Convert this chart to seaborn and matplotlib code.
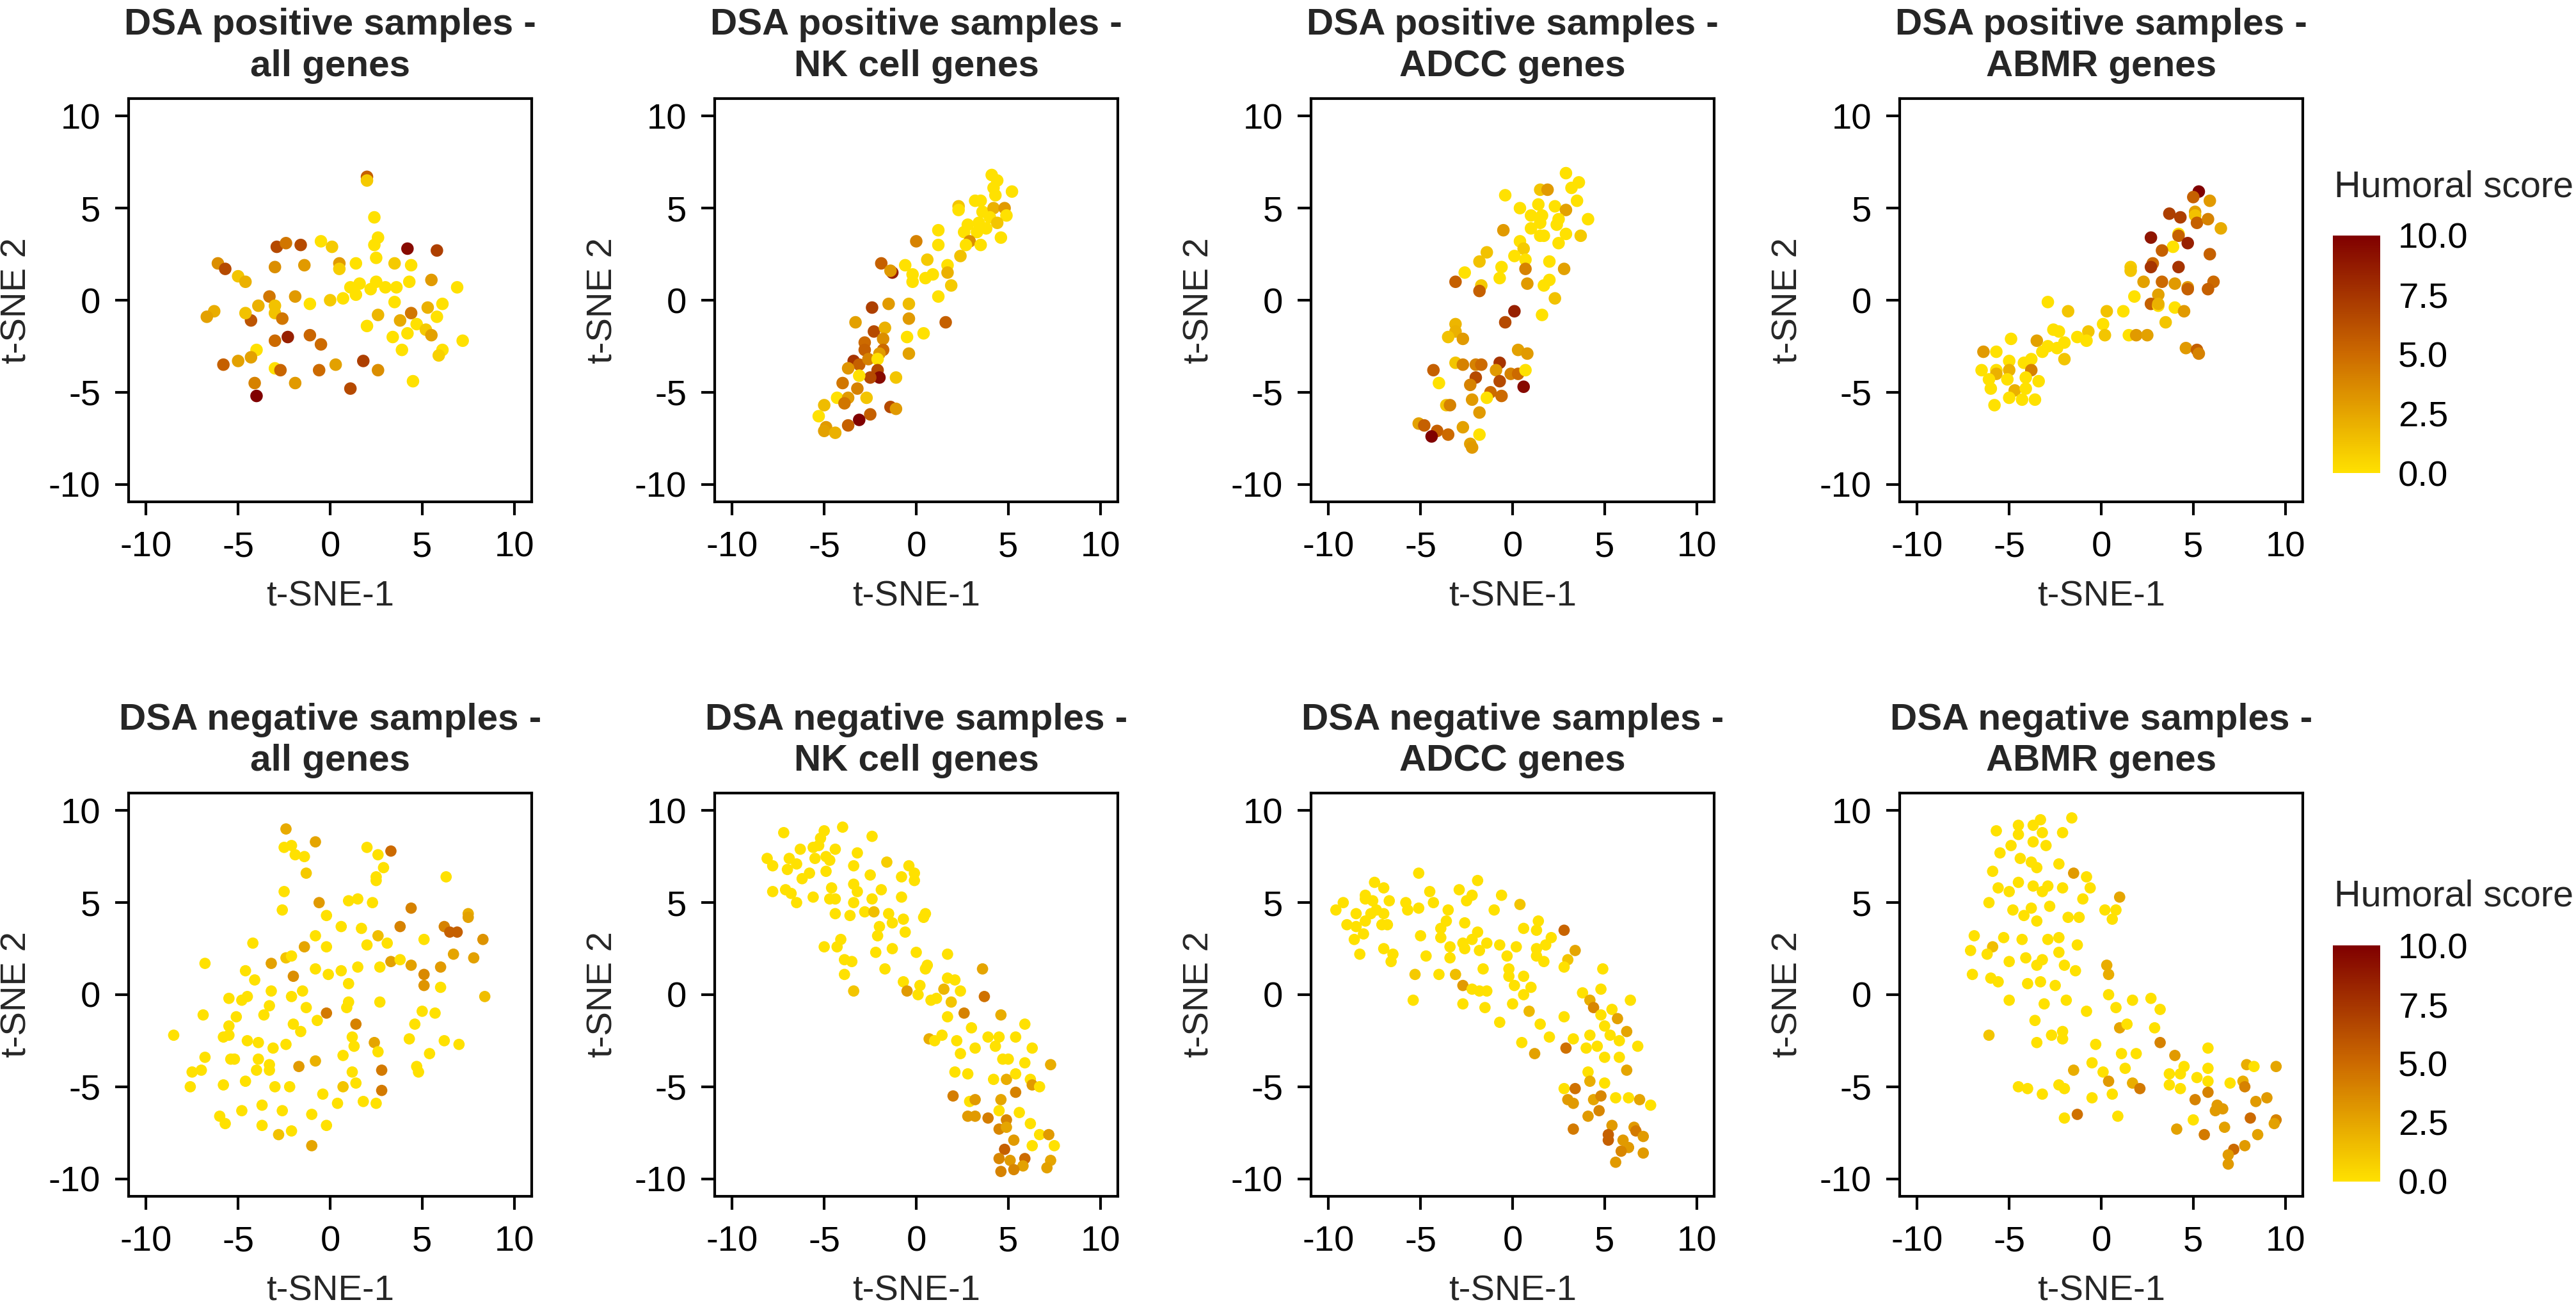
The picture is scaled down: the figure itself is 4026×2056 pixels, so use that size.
import pandas as pd
import seaborn as sns
import matplotlib.pyplot as plt
from matplotlib.colors import LinearSegmentedColormap, Normalize
from matplotlib.cm import ScalarMappable

# t-SNE coordinates + humoral score

# DSA positive - all genes
pos_all_x = [2.0, 2.0, 2.4, 2.6, 2.4, 4.2, 5.8, -0.5, 0.1, -2.9, -2.4, -1.6, -6.1, -5.7, -5.0, -4.6, -3.0, -1.4, 0.5, 0.5,
             1.4, 2.5, 3.5, 4.4, 4.3, 5.5, 6.9, 1.1, 1.6, 2.2, 2.5, 3.0, 3.6, 1.4, 0.7, 0.0, -1.1, -1.9, -3.3, -3.9,
             -3.0, -3.0, -2.6, -4.3, -4.6, -6.3, -6.7, 3.5, 6.1, 5.3, 4.4, 2.6, 3.8, 5.8, 2.0, 4.7, 4.2, 5.2, 5.5, 3.4,
             7.2, 3.9, 6.1, 5.9, -2.3, -3.0, -1.1, -0.5, -4.0, -4.3, -5.0, -5.8, -3.0, -2.7, -0.6, 0.3, 1.8, 2.6, 4.5, -4.1,
             -4.0, -1.9, 1.1]
pos_all_y = [6.7, 6.5, 4.5, 3.4, 3.0, 2.8, 2.7, 3.2, 2.9, 2.9, 3.1, 3.0, 2.0, 1.7, 1.3, 1.0, 1.8, 1.9, 2.0, 1.7,
             2.0, 2.3, 2.0, 1.9, 1.0, 1.1, 0.7, 0.7, 0.9, 0.6, 1.0, 0.7, 0.7, 0.3, 0.1, 0.0, -0.2, 0.2, 0.2, -0.3,
             -0.3, -0.7, -1.0, -1.1, -0.7, -0.6, -0.9, -0.1, -0.2, -0.4, -0.7, -0.8, -1.1, -0.9, -1.4, -1.3, -1.8, -1.6, -1.9, -2.0,
             -2.2, -2.7, -2.7, -3.0, -2.0, -2.2, -1.9, -2.4, -2.7, -3.1, -3.3, -3.5, -3.7, -3.8, -3.8, -3.5, -3.3, -3.8, -4.4, -4.5,
             -5.2, -4.5, -4.8]
pos_all_s = [5.5, 1.0, 0, 0, 0, 9.5, 7.0, 0, 1.0, 6.5, 4.5, 6.5, 3.5, 6.5, 1.2, 2.0, 3.5, 3.0, 3.0, 0.8,
             0, 0, 1.0, 0, 0, 3.0, 0, 0, 0, 0, 0, 0, 0, 0, 0, 1.0, 0, 3.0, 4.5, 2.0,
             1.3, 1.3, 4.5, 6.0, 1.3, 2.2, 2.7, 0, 0, 2.0, 4.5, 1.8, 2.3, 0, 0, 0, 0, 1.0, 2.7, 0,
             0, 0, 0, 0.7, 8.5, 5.0, 5.2, 5.0, 0, 2.7, 2.7, 5.5, 0, 5.2, 5.0, 2.7, 7.0, 3.5, 0, 4.0,
             10.0, 3.0, 6.5]

# DSA positive - NK cell genes
pos_nk_x = [4.1, 4.4, 4.2, 4.3, 5.2, 3.2, 3.5, 2.3, 2.3, 3.6, 4.2, 4.8, 4.9, 4.0, 4.4, 2.8, 3.4, 3.8, 3.3, 2.6,
            2.9, 2.7, 3.5, 4.6, 1.2, 1.2, 2.4, 0.0, 0.6, 1.7, 1.7, -0.6, -1.9, -1.3, -1.4, -0.2, -0.2, 0.5, 0.9, 1.9,
            1.2, -2.4, -1.5, -0.4, -0.4, 1.6, -3.3, -2.3, -1.7, -1.8, -0.5, 0.4, -2.8, -2.8, -1.8, -2.0, -0.4, -3.4, -3.1, -2.6,
            -2.1, -3.7, -2.1, -2.0, -2.5, -3.1, -1.1, -4.0, -3.2, -4.3, -3.7, -3.9, -2.7, -5.0, -1.4, -1.1, -5.3, -2.5, -3.1, -3.7,
            -4.9, -5.0, -4.4]
pos_nk_y = [6.8, 6.5, 6.1, 5.7, 5.9, 5.4, 5.4, 5.1, 4.9, 4.8, 5.0, 5.0, 4.6, 4.5, 4.2, 4.1, 4.2, 3.9, 3.7, 3.7,
            3.2, 3.0, 3.0, 3.4, 3.8, 3.0, 2.4, 3.2, 2.2, 1.9, 1.5, 1.9, 2.0, 1.5, 1.6, 1.4, 1.0, 1.2, 1.4, 0.8,
            0.2, -0.4, -0.2, -0.2, -1.0, -1.2, -1.2, -1.7, -1.5, -2.1, -2.0, -1.8, -2.3, -2.7, -2.7, -2.9, -2.9, -3.3, -3.5, -3.2,
            -3.2, -3.7, -3.8, -4.2, -4.2, -4.1, -4.2, -4.5, -4.8, -5.3, -5.3, -5.6, -5.3, -5.7, -5.8, -5.9, -6.3, -6.2, -6.5, -6.8,
            -6.9, -7.1, -7.2]
pos_nk_s = [0, 0, 0, 0, 0, 0, 0, 1.2, 0, 0, 2.0, 3.0, 0, 0, 1.2, 0, 0, 0, 0, 0,
            3.5, 0, 0, 0, 0, 0, 1.3, 4.0, 1.0, 0, 2.0, 0, 5.5, 8.5, 3.0, 0, 0, 0, 0, 1.0,
            0, 7.0, 3.0, 1.6, 3.0, 5.5, 2.7, 6.5, 2.0, 3.5, 0, 0, 5.0, 5.5, 5.0, 3.0, 2.7, 7.5, 5.5, 4.0,
            0, 3.2, 6.5, 9.5, 6.5, 0, 1.2, 4.5, 4.0, 0, 3.0, 4.5, 1.2, 1.6, 6.5, 3.0, 0, 5.5, 10.0, 5.5,
            3.0, 2.7, 2.0]

# DSA positive - ADCC genes
pos_adcc_x = [2.9, 3.6, 3.2, 1.5, 1.9, -0.4, 3.5, 0.4, 1.4, 2.3, 2.9, 1.0, 1.6, 1.5, 2.5, 2.4, 4.1, -0.5, 1.0, 1.5,
              1.7, 2.9, 3.7, 2.5, 0.4, 0.6, -1.4, 0.1, 0.7, -1.8, -0.6, 0.7, 2.0, 2.8, -2.6, -0.7, -3.1, -1.7, -1.8, 0.8,
              2.0, 1.7, 2.3, 0.1, -0.4, 1.6, -3.1, -3.1, -3.5, -2.7, 0.3, 0.8, -3.1, -2.7, -2.0, -1.7, -0.7, -0.9, -0.1, 0.3,
              0.7, -4.3, -2.0, -0.7, -2.3, 0.6, -4.0, -1.2, -1.4, -0.6, -2.2, -3.6, -3.4, -1.8, -5.1, -4.8, -4.1, -4.4, -3.5, -2.7,
              -1.8, -2.3, -2.2]
pos_adcc_y = [6.9, 6.4, 6.1, 6.0, 6.0, 5.7, 5.4, 5.0, 5.2, 5.1, 4.9, 4.6, 4.6, 4.2, 4.4, 4.1, 4.4, 3.8, 3.9, 3.5,
              3.5, 3.6, 3.5, 3.1, 3.2, 2.8, 2.6, 2.4, 2.2, 2.1, 1.8, 1.7, 2.1, 1.7, 1.5, 1.2, 1.0, 0.8, 0.5, 0.9,
              1.1, 0.8, 0.1, -0.6, -1.2, -0.8, -1.3, -1.7, -2.0, -2.1, -2.7, -2.9, -3.4, -3.5, -3.5, -3.5, -3.4, -3.8, -4.0, -4.0,
              -3.8, -3.8, -4.2, -4.4, -4.6, -4.7, -4.5, -5.0, -5.3, -5.2, -5.4, -5.7, -5.7, -6.1, -6.7, -6.8, -7.1, -7.4, -7.3, -6.9,
              -7.3, -7.8, -8.0]
pos_adcc_s = [0, 0, 0, 1.2, 3.0, 0, 0, 0, 0, 0, 2.7, 0, 0, 0, 0, 0, 0, 3.0, 0, 0,
              0, 0, 1.0, 0, 0, 1.0, 1.3, 0, 0, 1.3, 0, 4.0, 0, 2.7, 0, 0, 5.5, 1.0, 5.5, 3.0,
              0, 0, 1.3, 8.5, 6.5, 0, 1.8, 2.0, 1.3, 3.0, 2.7, 3.0, 1.2, 4.0, 4.0, 5.0, 7.5, 3.0, 4.0, 5.0,
              0, 5.5, 6.5, 6.5, 4.0, 9.5, 0, 5.0, 0, 5.0, 3.0, 1.2, 4.0, 3.0, 2.7, 5.5, 5.5, 10.0, 5.0, 2.7,
              0, 2.7, 3.0]

# DSA positive - ABMR genes
pos_abmr_x = [5.3, 5.0, 5.9, 3.7, 4.3, 5.1, 5.1, 5.2, 5.8, 6.5, 2.7, 4.2, 4.2, 4.7, 3.9, 3.3, 5.9, 1.6, 1.6, 2.8,
              2.7, 4.2, 2.3, 3.3, 4.0, 4.7, 4.7, 6.1, 5.8, 1.8, 3.1, 2.7, 3.1, 3.1, 4.0, 4.5, 3.5, -2.9, -1.8, 0.3,
              1.2, 0.1, -2.6, -2.3, -0.7, -1.3, -0.8, 0.2, 1.5, 1.9, 2.5, -4.9, -3.5, -2.9, -3.2, -2.4, -2.0, -2.0, 4.6, 5.2,
              5.3, -6.4, -5.7, -5.0, -4.2, -3.8, -6.5, -5.7, -5.7, -5.0, -3.8, -6.1, -5.1, -4.1, -3.4, -6.0, -4.7, -4.1, -5.0, -4.3,
              -3.6, -5.8]
pos_abmr_y = [5.9, 5.6, 5.4, 4.7, 4.5, 4.8, 4.6, 4.2, 4.4, 3.9, 3.4, 3.6, 3.5, 3.1, 2.9, 2.7, 2.5, 1.8, 1.6, 2.0,
              1.8, 1.8, 1.0, 1.0, 0.9, 0.7, 0.6, 1.0, 0.6, 0.2, 0.3, -0.2, -0.3, -0.2, -0.4, -0.6, -1.2, -0.1, -0.6, -0.6,
              -0.6, -1.3, -1.6, -1.7, -1.7, -2.0, -2.2, -1.9, -1.9, -1.9, -1.9, -2.1, -2.2, -2.5, -2.8, -2.6, -2.3, -3.2, -2.6, -2.7,
              -2.9, -2.8, -2.8, -3.3, -3.4, -3.2, -3.8, -3.8, -4.0, -3.8, -3.8, -4.3, -4.3, -4.2, -4.4, -4.8, -4.9, -4.8, -5.3, -5.4,
              -5.4, -5.7]
pos_abmr_s = [10.0, 5.5, 3.0, 7.0, 7.0, 2.7, 1.3, 5.5, 4.0, 2.3, 9.0, 0, 5.5, 8.5, 0, 5.5, 5.5, 1.0, 1.2, 5.0,
              7.5, 7.5, 2.7, 5.0, 3.0, 3.0, 5.5, 5.0, 5.5, 0, 2.7, 5.5, 0, 2.0, 0, 3.0, 1.2, 0, 1.2, 1.3,
              0, 0, 0, 0, 1.2, 0, 0, 1.2, 0, 3.0, 2.7, 0, 2.7, 0, 0, 0, 0, 1.2, 3.0, 5.5,
              4.0, 3.0, 0, 0, 0, 0, 0, 0, 2.0, 2.0, 4.0, 0, 0, 0, 0, 0, 2.0, 0, 0, 0,
              0, 0]

# DSA negative - all genes
neg_all_x = [-2.4, -0.8, -2.5, -2.1, -1.9, -1.4, -1.3, 2.0, 2.6, 3.3, 2.9, 2.5, 2.5, 6.3, -2.5, -2.6, -0.6, -0.2, 1.0, 1.5,
             2.3, 4.4, 3.8, 6.2, 6.5, 6.9, 7.5, 7.5, 8.3, -0.8, 0.6, 1.7, 2.6, 3.1, 2.0, 5.1, -4.2, -1.4, -0.2, -6.8,
             -3.2, -2.4, -2.1, -0.8, -0.1, 0.6, 1.5, 2.7, 3.3, 3.8, 4.4, 5.1, 5.1, 6.0, 6.0, 6.7, 7.8, 8.4, -2.0, -4.6,
             -4.1, 1.0, -3.2, -1.5, -5.5, -4.8, -4.5, -2.1, -3.3, -1.3, 1.0, 0.9, 2.7, -0.2, 5.0, 5.7, -6.9, -5.1, -3.6, -0.7,
             1.4, 4.6, -5.5, -2.0, -1.6, -8.5, -5.8, -5.5, -4.5, -3.9, -3.1, -2.4, 1.2, 1.3, 2.4, 2.6, 4.3, 6.2, 7.0, 5.4,
             -6.8, -5.4, -5.2, -3.9, 0.7, -0.8, -1.7, -3.3, -3.3, -4.0, -7.5, -7.0, 2.8, 4.7, 4.8, 1.2, -7.6, -5.8, -4.6, -3.0,
             -2.2, 0.7, 1.4, 2.8, -0.4, 0.4, 1.8, 2.5, -3.7, -4.8, -2.6, -1.0, -6.0, -5.7, -3.7, -2.1, -0.2, -2.8, -1.0]
neg_all_y = [9.0, 8.3, 8.0, 8.1, 7.6, 7.5, 6.6, 8.0, 7.6, 7.8, 6.9, 6.4, 6.2, 6.4, 5.6, 4.6, 5.0, 4.3, 5.1, 5.2,
             5.0, 4.7, 3.7, 3.7, 3.4, 3.4, 4.4, 4.2, 3.0, 3.2, 3.7, 3.6, 3.2, 2.8, 2.7, 3.0, 2.8, 2.6, 2.6, 1.7,
             1.7, 2.0, 2.1, 1.4, 1.1, 1.3, 1.5, 1.5, 1.8, 1.9, 1.6, 1.1, 0.5, 1.5, 0.4, 2.2, 2.0, -0.1, 1.0, 1.3,
             0.8, 0.6, 0.2, 0.2, -0.2, -0.3, -0.1, -0.1, -0.6, -0.7, -0.4, -0.7, -0.4, -1.0, -0.9, -1.0, -1.1, -1.2, -1.1, -1.4,
             -1.6, -1.6, -1.7, -1.6, -2.0, -2.2, -2.3, -2.2, -2.5, -2.6, -2.9, -2.7, -2.3, -2.8, -2.6, -3.1, -2.4, -2.5, -2.7, -3.2,
             -3.4, -3.5, -3.5, -3.5, -3.3, -3.6, -3.9, -3.8, -4.1, -4.1, -4.2, -4.1, -4.1, -3.9, -4.2, -4.2, -5.0, -4.9, -4.7, -5.0,
             -5.0, -5.0, -4.8, -5.2, -5.4, -5.9, -5.8, -5.9, -6.0, -6.3, -6.3, -6.5, -6.6, -7.0, -7.1, -7.4, -7.1, -7.6, -8.2]
neg_all_s = [2.3, 2.5, 0, 0, 0, 0, 1.0, 0, 0, 5.0, 0, 0, 0, 0, 0, 0, 3.0, 0, 0, 0,
             0, 4.0, 4.0, 4.0, 5.5, 5.5, 2.2, 2.7, 3.3, 0, 0, 0, 1.5, 0, 0, 0, 0, 2.5, 0, 0,
             2.7, 1.2, 0, 0, 0, 0, 0, 0, 2.7, 0, 2.7, 3.7, 3.2, 3.0, 0, 2.5, 2.7, 1.5, 3.5, 0,
             0, 0, 0, 0, 0, 0, 0, 0, 0, 0, 0, 0, 0, 4.3, 0, 0, 0, 0, 0, 0,
             4.0, 0, 0, 0, 0, 0, 0, 0, 0, 0, 0, 0, 0, 0, 2.5, 0, 0, 0, 0, 0,
             0, 0, 0, 0, 0, 2.0, 3.0, 0, 0, 0, 0, 0, 4.3, 0, 0, 0, 0, 0, 0, 0,
             0, 1.2, 0, 4.3, 0, 0, 0, 0, 0, 0, 0, 0, 0, 0, 0, 0, 0, 1.3, 2.5]

# DSA negative - NK cell genes
neg_nk_x = [-7.2, -5.0, -4.0, -2.4, -5.2, -6.3, -5.6, -5.3, -4.4, -3.2, -8.1, -7.8, -6.9, -6.5, -7.0, -5.5, -4.9, -4.7, -3.4, -1.6,
            -0.4, -0.1, -0.1, -0.8, -2.5, -4.9, -5.8, -6.2, -7.8, -7.1, -6.8, -6.5, -5.6, -4.7, -4.4, -4.6, -3.4, -3.2, -3.4, -2.4,
            -1.9, -0.8, -4.4, -3.6, -2.8, -2.3, -1.5, -0.7, 0.5, 0.4, -1.3, -2.0, -2.1, -0.6, -4.1, -5.0, -4.3, -2.2, -1.3, 0.0,
            1.7, -3.9, -3.5, 0.6, 0.5, -1.7, 3.6, -3.9, -3.4, -0.7, -0.5, 0.2, 0.1, 0.8, 1.1, 1.5, 1.7, 2.1, 2.4, 1.9,
            3.7, 1.7, 2.6, 4.6, 3.0, 5.9, 0.7, 1.0, 1.4, 2.2, 3.9, 4.5, 5.4, 4.3, 3.2, 6.3, 2.4, 4.7, 5.0, 5.9,
            7.3, 2.1, 2.8, 4.2, 4.9, 5.4, 6.2, 6.3, 6.7, 2.0, 2.9, 3.2, 4.6, 5.4, 4.5, 5.6, 2.8, 3.2, 3.9, 4.9,
            4.5, 4.9, 6.2, 6.7, 7.2, 5.3, 6.3, 7.5, 4.8, 4.5, 5.1, 5.9, 5.8, 5.3, 4.6, 7.3, 7.1]
neg_nk_y = [8.8, 8.9, 9.1, 8.6, 8.5, 7.9, 8.0, 8.1, 7.9, 7.7, 7.4, 7.0, 7.4, 7.1, 6.8, 7.4, 7.5, 7.3, 7.0, 7.2,
            7.0, 6.6, 6.2, 6.4, 6.5, 6.7, 6.6, 6.3, 5.6, 5.7, 5.5, 5.0, 5.3, 5.2, 5.2, 5.8, 6.0, 5.6, 5.0, 5.2,
            5.7, 5.3, 4.4, 4.3, 4.5, 4.5, 4.4, 4.1, 4.4, 4.2, 3.9, 3.7, 3.2, 3.4, 3.0, 2.6, 2.6, 2.3, 2.5, 2.3,
            2.2, 1.9, 1.8, 1.6, 1.4, 1.4, 1.4, 1.1, 0.2, 0.7, 0.2, 0.5, 0.0, -0.3, -0.2, 0.3, 0.9, 0.8, 0.2, -0.4,
            -0.1, -1.2, -1.0, -1.1, -1.8, -1.6, -2.4, -2.5, -2.2, -2.5, -2.3, -2.3, -2.3, -2.8, -2.9, -2.9, -3.2, -3.5, -3.5, -3.7,
            -3.8, -4.2, -4.3, -4.6, -4.6, -4.3, -4.6, -4.9, -5.0, -5.5, -5.8, -5.7, -5.7, -5.3, -6.3, -6.4, -6.6, -6.6, -6.7, -6.8,
            -7.3, -7.2, -7.0, -7.6, -7.6, -7.9, -8.2, -8.2, -8.4, -8.9, -9.0, -8.9, -9.3, -9.5, -9.6, -9.0, -9.4]
neg_nk_s = [0, 0, 0, 0, 0, 0, 0, 0, 0, 0, 0, 0, 0, 0, 0, 0, 0, 0, 0, 0.8,
            0, 0, 0, 0, 0, 0, 0, 0, 0, 0, 0, 0, 0, 0, 0, 0, 0, 0, 0, 0,
            0, 0, 0, 0, 0, 1.5, 0, 0, 0, 0, 0, 0, 0, 0, 0, 0, 0, 0, 0, 0,
            0, 0, 0, 0, 0, 0, 2.5, 0, 1.2, 0, 3.0, 0, 0, 0, 0, 1.8, 0, 0, 0, 1.2,
            4.7, 0, 4.0, 2.2, 0, 0, 2.2, 0, 0, 0, 0, 0, 0, 0, 0, 0, 0, 0, 0, 0,
            2.2, 0, 0, 0, 2.2, 0, 0, 3.0, 0, 4.2, 0, 3.0, 2.5, 4.0, 0, 0, 3.0, 3.0, 4.2, 3.8,
            3.8, 2.5, 0, 0, 3.0, 3.0, 0, 0, 5.5, 3.8, 3.0, 5.0, 2.7, 3.8, 4.0, 2.5, 2.7]

# DSA negative - ADCC genes
neg_adcc_x = [-9.2, -9.0, -5.1, -7.5, -7.0, -8.0, -8.0, -7.6, -6.7, -5.8, -5.7, -5.1, -4.5, -4.3, -2.9, -1.9, -2.2, -2.5, -0.6, -1.0,
              0.4, -8.5, -7.7, -7.4, -7.0, -8.0, -8.5, -7.1, -6.8, -8.1, -8.6, -3.5, -3.6, -3.9, -3.9, -2.6, -1.9, -2.2, -2.7, -2.6,
              -3.4, -1.4, -1.8, -0.7, 0.2, 0.6, 1.4, 1.3, 2.1, 1.8, 1.3, 1.3, 1.7, -0.3, 2.8, 3.4, 3.0, 2.8, -5.0, -7.0,
              -6.5, -6.6, -8.3, -4.7, -3.4, -5.3, -4.0, -3.1, -1.6, -0.2, -0.2, 0.6, -2.7, -2.2, -1.8, -1.4, 0.1, 0.6, 1.0, -5.4,
              -2.7, -1.5, 0.0, 0.9, -0.7, 1.5, 2.8, 2.0, 0.5, 1.2, 2.9, 3.3, 4.9, 4.8, 3.8, 4.2, 4.4, 6.4, 4.8, 5.4,
              5.7, 5.0, 4.2, 5.3, 5.8, 6.2, 4.6, 4.0, 5.0, 5.8, 6.8, 6.2, 4.1, 4.2, 5.0, 2.8, 3.4, 3.0, 3.3, 4.4,
              4.8, 5.6, 6.3, 6.9, 7.5, 4.7, 4.1, 3.3, 5.4, 5.2, 5.2, 6.6, 6.7, 7.1, 6.0, 6.3, 5.9, 7.1, 5.6, -9.6]
neg_adcc_y = [5.0, 3.8, 6.6, 6.1, 5.8, 5.4, 5.2, 5.1, 5.1, 5.0, 4.6, 4.7, 5.6, 5.0, 5.7, 6.2, 5.4, 5.1, 5.4, 4.6,
              4.9, 4.4, 4.4, 4.6, 4.4, 4.0, 3.7, 3.8, 3.8, 3.3, 3.0, 4.6, 4.0, 3.6, 3.1, 3.9, 3.4, 3.0, 2.8, 2.5,
              2.6, 2.8, 2.4, 2.7, 2.6, 3.6, 4.0, 3.5, 3.1, 2.7, 2.5, 2.1, 1.8, 2.1, 3.5, 2.4, 1.9, 1.5, 3.2, 2.5,
              2.2, 1.8, 2.2, 2.1, 2.0, 1.1, 1.1, 1.1, 1.4, 1.4, 1.0, 1.0, 0.5, 0.3, 0.2, 0.2, 0.5, 0.0, 0.4, -0.3,
              -0.5, -0.7, -0.5, -0.9, -1.5, -1.6, -1.2, -2.3, -2.6, -3.2, -2.9, -2.4, 1.4, 0.3, 0.1, -0.3, -0.7, -0.3, -1.1, -0.8,
              -1.3, -1.7, -2.2, -2.2, -2.5, -2.0, -2.8, -2.9, -3.4, -3.4, -2.8, -4.1, -4.2, -4.7, -4.8, -5.1, -5.1, -5.7, -5.9, -5.7,
              -5.5, -5.6, -5.6, -5.7, -6.0, -6.3, -6.6, -7.3, -7.1, -7.6, -7.9, -7.2, -7.4, -7.7, -7.9, -8.3, -8.5, -8.6, -9.1, 4.6]
neg_adcc_s = [0, 0, 0, 0, 0, 0, 0, 0, 0, 0, 0, 0, 0, 0, 0, 0, 0, 0, 0, 0,
              1.2, 0, 0, 0, 0, 0, 0, 0, 0, 0, 0, 0, 0, 0, 0, 0, 0, 0, 0, 0,
              0, 0, 0, 0, 0, 0, 0, 0, 0, 0, 0, 0, 0, 0, 5.3, 2.5, 1.2, 0, 0, 0,
              0, 0, 0, 0, 0, 1.0, 0, 1.5, 0, 0, 0, 0, 3.0, 0, 0, 0, 0, 0, 0, 0,
              0, 0, 0, 1.7, 0, 0, 0, 0, 0, 2.7, 4.7, 0, 0, 0, 0, 2.2, 3.8, 0, 0, 0,
              2.7, 0, 0, 0, 0, 2.5, 0, 0, 0, 0, 0, 2.5, 0, 2.2, 0, 0, 4.7, 3.0, 3.0, 2.5,
              3.8, 0, 0, 2.5, 0, 3.8, 3.0, 4.3, 3.0, 5.5, 5.5, 3.0, 4.3, 3.0, 3.0, 3.0, 3.8, 3.0, 3.0, 0]

# DSA negative - ABMR genes
neg_abmr_x = [-5.7, -4.5, -4.5, -3.7, -3.3, -3.2, -2.1, -1.6, -4.9, -3.7, -3.0, -5.5, -4.4, -3.8, -3.5, -2.3, -1.5, -0.8, -5.9, -4.5,
              -5.6, -5.0, -3.7, -2.9, -3.2, -2.1, -0.6, -1.0, 1.0, -6.1, -4.8, -4.2, -3.8, -3.5, -2.8, -1.8, -1.2, 0.2, 0.8, 0.6,
              -6.9, -7.1, -5.9, -6.2, -5.3, -4.3, -2.9, -2.3, -1.3, -2.3, -5.0, -4.1, -3.2, -3.5, -2.0, -1.4, -7.0, -6.0, -5.6, -4.0,
              -3.3, -2.5, 0.3, 0.4, -5.0, -3.1, -1.9, 0.4, -0.8, 0.8, 1.7, 2.7, 3.2, -3.6, 1.0, 1.4, 2.9, -6.1, -2.7, -2.1,
              -2.1, -3.5, -0.3, 3.2, 1.1, 1.9, 4.0, 5.8, -0.5, -1.5, 0.1, 1.3, 0.4, 1.7, 2.1, -4.5, -4.0, -3.2, -2.3, -2.0,
              -0.5, 0.6, 3.7, 4.3, 4.5, 3.7, 4.3, 5.2, 5.8, 5.8, 5.8, 5.1, 7.0, 7.9, 8.3, 9.5, 7.7, 7.8, 9.0, 8.4,
              6.3, 6.6, 6.2, -2.0, -1.3, 0.9, 5.0, 4.1, 5.6, 6.7, 8.1, 9.5, 9.4, 8.5, 7.8, 7.2, 6.9, 6.9]
neg_abmr_y = [8.9, 9.2, 8.7, 9.2, 9.5, 8.8, 8.8, 9.6, 8.1, 8.3, 8.1, 7.7, 7.4, 7.2, 6.9, 7.1, 6.6, 6.4, 6.7, 6.1,
              5.8, 5.6, 5.9, 5.9, 5.6, 5.8, 5.8, 5.2, 5.3, 5.0, 4.6, 4.3, 4.7, 4.0, 4.8, 4.2, 4.2, 4.6, 4.6, 4.1,
              3.2, 2.4, 2.6, 2.2, 3.1, 3.0, 3.0, 3.1, 2.7, 2.3, 1.8, 2.0, 1.9, 1.6, 1.6, 1.3, 1.1, 0.9, 0.7, 0.6,
              0.7, 0.5, 1.6, 1.1, -0.3, -0.5, -0.3, 0.0, -0.9, -0.7, -0.3, -0.2, -0.8, -1.4, -1.8, -1.6, -1.8, -2.2, -2.2, -2.0,
              -2.4, -2.6, -2.7, -2.6, -3.2, -3.2, -3.3, -2.9, -3.7, -4.1, -4.2, -4.0, -4.7, -4.8, -5.1, -5.0, -5.1, -5.4, -4.9, -5.1,
              -5.6, -5.4, -4.3, -4.3, -3.9, -4.9, -5.1, -4.5, -4.0, -4.7, -5.3, -5.7, -4.8, -3.8, -3.9, -3.9, -4.7, -5.0, -5.6, -5.8,
              -6.0, -6.2, -6.3, -6.7, -6.5, -6.6, -6.8, -7.3, -7.6, -7.2, -6.7, -6.8, -7.0, -7.6, -8.2, -8.4, -8.7, -9.2]
neg_abmr_s = [0, 0, 0, 0, 0, 0, 0, 0, 0, 0, 0, 0, 0, 0, 0, 0, 3.0, 0, 0, 0,
              0, 0, 0, 0, 0, 0, 0, 0, 2.5, 0, 0, 0, 0, 0, 0, 0, 0, 0, 0, 0,
              0, 0, 1.5, 0, 0, 0, 0, 0, 0, 0, 0, 0, 0, 0, 0, 0, 0, 0, 0, 0,
              0, 0, 2.2, 2.2, 0, 0, 0, 0, 0, 0, 0, 0, 0, 0, 2.5, 0, 0, 1.2, 0, 0,
              0, 0, 0, 4.0, 0, 0, 3.0, 0, 0, 2.2, 0, 0, 3.0, 2.2, 4.3, 0, 0, 0, 0, 0,
              0, 0, 0, 0, 0, 0, 0, 0, 0, 0, 4.0, 4.0, 0, 2.2, 0, 2.5, 2.2, 4.0, 3.0, 3.0,
              3.0, 3.0, 3.0, 0, 4.7, 0, 0, 2.7, 4.3, 2.7, 5.0, 4.0, 2.7, 2.7, 3.0, 5.0, 3.0, 3.0]

gene_sets = ['all genes', 'NK cell genes', 'ADCC genes', 'ABMR genes']
axis_ticks = [-10, -5, 0, 5, 10]
score_ticks = [0, 2.5, 5, 7.5, 10]

W, H = 4026, 2056
DPI = 300


def make_panel(ax, x, y, s, title, size):
    df = pd.DataFrame({'x': x, 'y': y, 'score': s})
    sns.scatterplot(data=df, x='x', y='y', hue='score', palette=cmap, hue_norm=norm,
                    s=size, linewidth=0, legend=False, ax=ax)
    ax.set_xlim(-10.95, 10.95)
    ax.set_ylim(-10.95, 10.95)
    ax.set_xticks(axis_ticks)
    ax.set_yticks(axis_ticks)
    ax.set_title(title, fontsize=14, fontweight='bold', pad=8.4, linespacing=1.25)
    ax.set_xlabel('t-SNE-1', fontsize=13.5, labelpad=6)
    ax.set_ylabel('t-SNE 2', fontsize=13.5, labelpad=5.5)
    ax.tick_params(axis='both', direction='out', length=5, width=1.0, labelsize=13.5, colors='black')
    ax.tick_params(axis='x', pad=6)
    ax.tick_params(axis='y', pad=5.5)
    for sp in ax.spines.values():
        sp.set_visible(True)
        sp.set_linewidth(1.0)
        sp.set_color('black')


sns.set_style('ticks')
plt.rcParams['font.family'] = ['Liberation Sans', 'DejaVu Sans']
plt.rcParams['axes.unicode_minus'] = False

cmap = LinearSegmentedColormap.from_list('humoral', ['#FFE100', '#CC6A00', '#800000'])
norm = Normalize(vmin=0, vmax=10)

fig = plt.figure(figsize=(W / DPI, H / DPI), dpi=DPI)
fig.patch.set_facecolor('white')

# pixel layout of the frames
lefts = [201, 1117, 2049, 2969]
tops = [154, 1239]
side = 630

rows = [
    ('DSA positive samples -', [(pos_all_x, pos_all_y, pos_all_s), (pos_nk_x, pos_nk_y, pos_nk_s),
                                (pos_adcc_x, pos_adcc_y, pos_adcc_s), (pos_abmr_x, pos_abmr_y, pos_abmr_s)], 22),
    ('DSA negative samples -', [(neg_all_x, neg_all_y, neg_all_s), (neg_nk_x, neg_nk_y, neg_nk_s),
                                (neg_adcc_x, neg_adcc_y, neg_adcc_s), (neg_abmr_x, neg_abmr_y, neg_abmr_s)], 18),
]

for r, (head, sets, msize) in enumerate(rows):
    for c, (x, y, s) in enumerate(sets):
        ax = fig.add_axes([lefts[c] / W, 1 - (tops[r] + side) / H, side / W, side / H])
        make_panel(ax, x, y, s, f'{head}\n{gene_sets[c]}', msize)

# colour legends
cbar_boxes = [(368, 739, 307), (1477, 1846, 1415)]
for top_px, bot_px, title_px in cbar_boxes:
    cax = fig.add_axes([3646 / W, 1 - bot_px / H, 74 / W, (bot_px - top_px) / H])
    cb = fig.colorbar(ScalarMappable(norm=norm, cmap=cmap), cax=cax, ticks=score_ticks)
    cb.outline.set_visible(False)
    cb.minorticks_off()
    cax.yaxis.set_major_formatter('{x:.1f}')
    cax.tick_params(axis='y', which='major', direction='in', length=3.4, width=0.6,
                    color=(1, 1, 1, 0.75), left=True, right=True,
                    labelleft=False, labelright=True, labelsize=13.5, pad=6.7, labelcolor='black')
    fig.text(3648 / W, 1 - title_px / H, 'Humoral score', fontsize=13.8,
             ha='left', va='baseline')

fig.savefig('out.png', dpi=DPI, facecolor='white')
